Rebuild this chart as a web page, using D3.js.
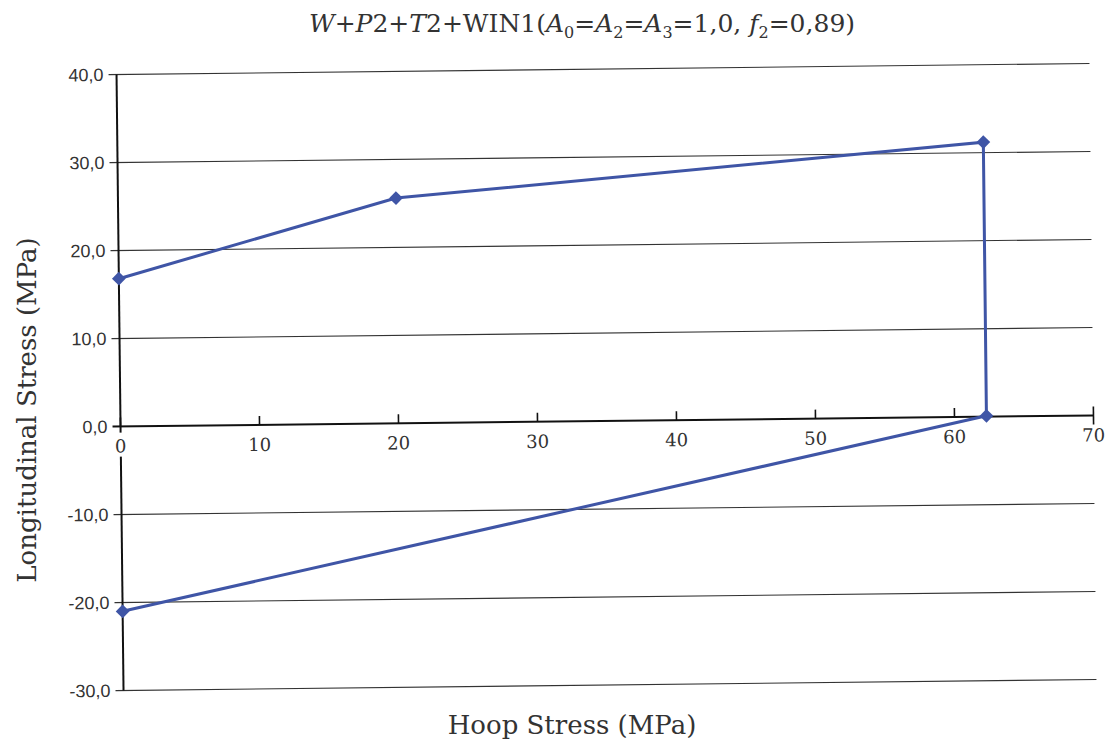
<!DOCTYPE html>
<html>
<head>
<meta charset="utf-8">
<script src="https://cdn.jsdelivr.net/npm/d3@7"></script>
<style>
  body { margin: 0; background: #fff; }
  svg { display: block; }
</style>
</head>
<body>
<div id="chart"></div>
<script>
// values
var hoop = [0, 20.0, 62.3, 62.3, 0];
var longit = [16.8, 25.6, 31.2, 0.1, -21.0];
var xTicks = [0, 10, 20, 30, 40, 50, 60, 70];
var yTicks = [40, 30, 20, 10, 0, -10, -20, -30];

var width = 1113, height = 744;
var plotLeft = 120, plotRight = 1093, plotTop = 69, plotBottom = 685;
var lineColor = "#3f55a6";
var serif = "DejaVu Serif, serif";

var svg = d3.select("#chart")
  .append("svg")
  .attr("width", width)
  .attr("height", height);

var x = d3.scaleLinear().domain([0, 70]).range([plotLeft, plotRight]);
var y = d3.scaleLinear().domain([-30, 40]).range([plotBottom, plotTop]);

// the scan is a little tilted, so the plot is too
var plot = svg.append("g")
  .attr("transform", "rotate(-0.65," + ((plotLeft + plotRight) / 2) + "," + ((plotTop + plotBottom) / 2) + ")");

// grid lines
plot.append("g")
  .selectAll("line")
  .data(yTicks)
  .enter()
  .append("line")
  .attr("x1", plotLeft - 8)
  .attr("x2", plotRight)
  .attr("y1", function(d) { return y(d); })
  .attr("y2", function(d) { return y(d); })
  .attr("stroke", function(d) { return d == 0 ? "#111" : "#333"; })
  .attr("stroke-width", function(d) { return d == 0 ? 2 : 1.1; });

// y axis line
plot.append("line")
  .attr("x1", plotLeft).attr("x2", plotLeft)
  .attr("y1", y(40)).attr("y2", y(-30))
  .attr("stroke", "#111")
  .attr("stroke-width", 2);

// y tick labels
plot.append("g")
  .selectAll("text")
  .data(yTicks)
  .enter()
  .append("text")
  .attr("x", plotLeft - 13)
  .attr("y", function(d) { return y(d); })
  .attr("dy", "0.35em")
  .style("text-anchor", "end")
  .style("font-family", "Liberation Sans, Arial, sans-serif")
  .style("font-size", "18px")
  .style("fill", "#333")
  .text(function(d) { return d3.format(".1f")(d).replace(".", ",").replace("\u2212", "-"); });

// x ticks sit on the zero line
var xt = plot.append("g")
  .selectAll("g")
  .data(xTicks)
  .enter()
  .append("g")
  .attr("transform", function(d) { return "translate(" + x(d) + "," + y(0) + ")"; });

xt.append("line")
  .attr("y1", -9)
  .attr("y2", function(d) { return d == 70 ? 9 : 0; })
  .attr("stroke", "#111")
  .attr("stroke-width", 1.6);

xt.append("rect")
  .attr("x", -12)
  .attr("y", 6)
  .attr("width", 24)
  .attr("height", 24)
  .style("fill", function(d) { return d == 0 ? "#fff" : "none"; });

xt.append("text")
  .attr("y", 26)
  .style("text-anchor", "middle")
  .style("font-family", serif)
  .style("font-size", "18px")
  .style("fill", "#333")
  .text(function(d) { return d; });

// the series
var pts = hoop.map(function(d, i) { return [d, longit[i]]; });

plot.append("path")
  .datum(pts)
  .attr("d", d3.line()
    .x(function(d) { return x(d[0]); })
    .y(function(d) { return y(d[1]); }))
  .attr("fill", "none")
  .attr("stroke", lineColor)
  .attr("stroke-width", 3);

plot.append("g")
  .selectAll("path")
  .data(pts)
  .enter()
  .append("path")
  .attr("d", d3.symbol().type(d3.symbolSquare).size(95))
  .attr("transform", function(d) { return "translate(" + x(d[0]) + "," + y(d[1]) + ")rotate(45)"; })
  .style("fill", lineColor);

// title
var title = svg.append("text")
  .attr("x", 582)
  .attr("y", 32)
  .style("text-anchor", "middle")
  .style("font-family", serif)
  .style("font-size", "25px")
  .style("fill", "#333");

var parts = [
  ["W", "i"], ["+", ""], ["P", "i"], ["2+", ""], ["T", "i"], ["2+WIN1(", ""],
  ["A", "i"], ["0", "s"], ["=", ""], ["A", "i"], ["2", "s"], ["=", ""],
  ["A", "i"], ["3", "s"], ["=1,0, ", ""], ["f", "i"], ["2", "s"], ["=0,89)", ""]
];
var prevSub = false;
parts.forEach(function(p) {
  var ts = title.append("tspan").text(p[0]);
  if (p[1] == "i") ts.style("font-style", "italic");
  if (p[1] == "s") {
    ts.attr("dy", 6).style("font-size", "16px");
    prevSub = true;
  } else if (prevSub) {
    ts.attr("dy", -6);
    prevSub = false;
  }
});

// axis titles
svg.append("text")
  .attr("x", 572)
  .attr("y", 734)
  .style("text-anchor", "middle")
  .style("font-family", serif)
  .style("font-size", "26px")
  .style("fill", "#333")
  .text("Hoop Stress (MPa)");

svg.append("text")
  .attr("transform", "translate(36,410)rotate(-90)")
  .style("text-anchor", "middle")
  .style("font-family", serif)
  .style("font-size", "26px")
  .style("fill", "#333")
  .text("Longitudinal Stress (MPa)");
</script>
</body>
</html>
